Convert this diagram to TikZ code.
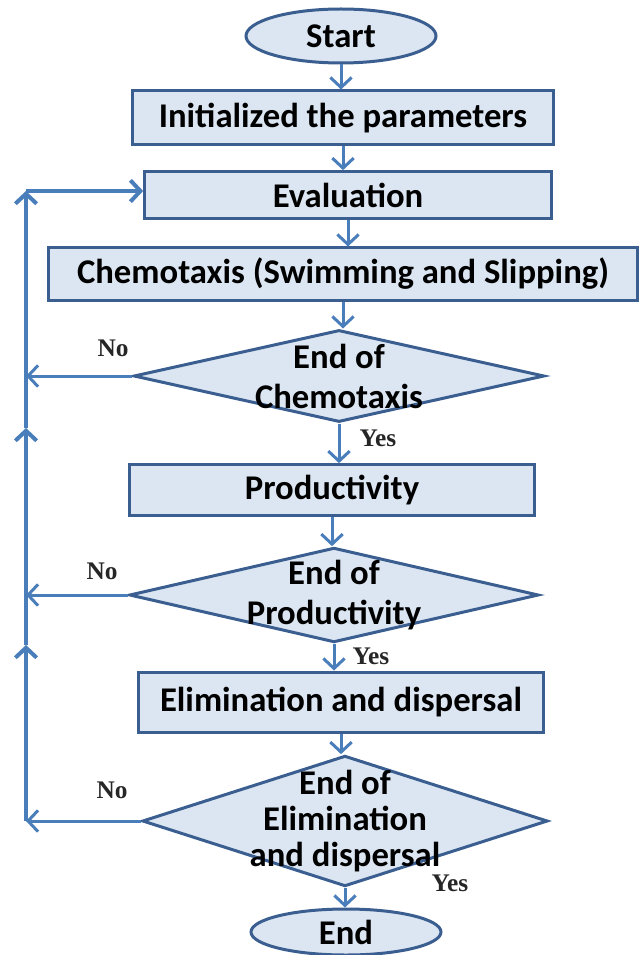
\documentclass[tikz,border=0pt]{standalone}
\usepackage{fontspec}
\setmainfont{Carlito}
\newfontfamily\answerfont{Liberation Serif}
\usetikzlibrary{shapes.geometric,arrows.meta}

\definecolor{boxline}{RGB}{59,94,145}
\definecolor{boxfill}{RGB}{220,230,242}
\definecolor{flowblue}{RGB}{74,126,187}

\tikzset{every picture/.style={line width=0.75pt}}
\tikzset{
	procbox/.style={draw=boxline, fill=boxfill, line width=2.25pt, rectangle, inner sep=0pt, text=black, font=\fontsize{26}{30}\selectfont\bfseries},
	termbox/.style={procbox, ellipse},
	testbox/.style={procbox, diamond},
	testtext/.style={align=center, inner sep=0pt, text=black, font=\fontsize{26}{30}\selectfont\bfseries},
	flowarrow/.style={draw=flowblue, line width=2.25pt, -{Straight Barb[length=7.5pt,width=16pt]}},
	backarrow/.style={flowarrow, line width=3pt},
	answer/.style={inner sep=0.75pt, text=black!85, font=\answerfont\fontsize{19}{22}\selectfont\bfseries},
}

\begin{document}
\begin{tikzpicture}[x=0.75pt,y=0.75pt,yscale=-1,xscale=1]
	\useasboundingbox (0,0) rectangle (641,955);
	
	%Shape: Ellipse [id:start]
	\node [termbox, minimum width=142.5pt, minimum height=40.5pt] (start) at (341,36) {Start};
	%Shape: Rectangle [id:init]
	\node [procbox, minimum width=316pt, minimum height=40.5pt] (init) at (343,118) {Initialized the parameters};
	%Shape: Rectangle [id:eval]
	\node [procbox, minimum width=305pt, minimum height=35pt] (eval) at (348,195) {Evaluation};
	%Shape: Rectangle [id:chemo]
	\node [procbox, minimum width=442pt, minimum height=39pt] (chemo) at (343,274) {Chemotaxis (Swimming and Slipping)};
	%Shape: Diamond [id:endchemo]
	\node [testbox, minimum width=308pt, minimum height=69pt, label={[testtext]center:{End of\\Chemotaxis}}] (endchemo) at (339,376) {};
	%Shape: Rectangle [id:prod]
	\node [procbox, minimum width=304pt, minimum height=38pt] (prod) at (332,490) {Productivity};
	%Shape: Diamond [id:endprod]
	\node [testbox, minimum width=307pt, minimum height=71pt, label={[testtext]center:{End of\\Productivity}}] (endprod) at (334,595) {};
	%Shape: Rectangle [id:elim]
	\node [procbox, minimum width=304pt, minimum height=45pt] (elim) at (341,702) {Elimination and dispersal};
	%Shape: Diamond [id:endelim]
	\node [testbox, minimum width=304pt, minimum height=98pt, label={[testtext, font=\fontsize{26}{27}\selectfont\bfseries]center:{End of\\Elimination\\and dispersal}}] (endelim) at (345,821) {};
	%Shape: Ellipse [id:stop]
	\node [termbox, minimum width=142.5pt, minimum height=34.5pt] (stop) at (346,932) {End};
	
	%Straight Lines [id:down arrows]
	\draw [flowarrow] (start) -- (start |- init.north);
	\draw [flowarrow] (init) -- (init |- eval.north);
	\draw [flowarrow] (eval) -- (eval |- chemo.north);
	\draw [flowarrow] (chemo) -- (chemo |- endchemo.north);
	\draw [flowarrow] (endchemo) -- (endchemo |- prod.north);
	\draw [flowarrow] (prod) -- (prod |- endprod.north);
	\draw [flowarrow] (endprod) -- (endprod |- elim.north);
	\draw [flowarrow] (elim) -- (elim |- endelim.north);
	\draw [flowarrow] (endelim) -- (endelim |- stop.north);
	
	%Straight Lines [id:feedback]
	\coordinate (corner) at (26,191);
	\coordinate (upA) at (26,645);
	\coordinate (upB) at (26,428);
	\draw [flowarrow] (endchemo.west) -- (endchemo.west -| corner);
	\draw [flowarrow] (endprod.west) -- (endprod.west -| corner);
	\draw [flowarrow] (endelim.west) -- (endelim.west -| corner);
	\draw [backarrow] (endelim.west -| corner) -- (upA);
	\draw [backarrow] (upA) -- (upB);
	\draw [backarrow] (upB) -- (corner);
	\draw [backarrow] (corner) -- (corner -| eval.west);
	
	% Text Node
	\node [answer] (no1) at (113,348) {No};
	% Text Node
	\node [answer] (yes1) at (378,438) {Yes};
	% Text Node
	\node [answer] (no2) at (102,571) {No};
	% Text Node
	\node [answer] (yes2) at (371,656) {Yes};
	% Text Node
	\node [answer] (no3) at (112,790) {No};
	% Text Node
	\node [answer] (yes3) at (450,883) {Yes};
	
\end{tikzpicture}
\end{document}
